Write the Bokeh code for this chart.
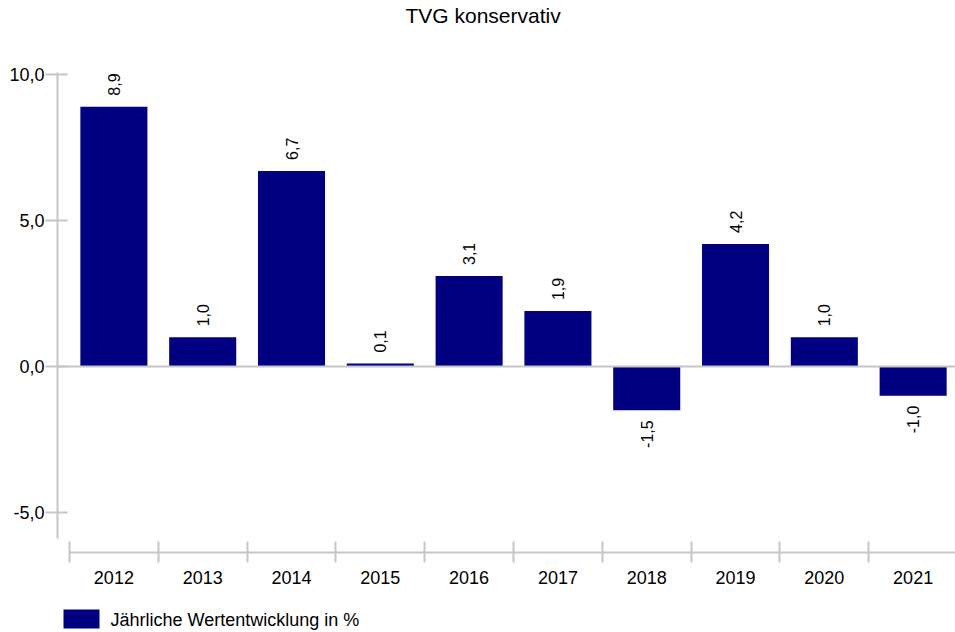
from bokeh.plotting import figure
from bokeh.layouts import column
from bokeh.models import (Range1d, FixedTicker, CustomJSTickFormatter, Span,
                          ColumnDataSource, Title)
from bokeh.core.properties import value
from bokeh.embed import file_html
from bokeh.resources import INLINE
import math

# ---- data ----
years = ["2012", "2013", "2014", "2015", "2016", "2017", "2018", "2019", "2020", "2021"]
values = [8.9, 1.0, 6.7, 0.1, 3.1, 1.9, -1.5, 4.2, 1.0, -1.0]
y_ticks = [-5, 0, 5, 10]
title_text = "TVG konservativ"
legend_label = "Jährliche Wertentwicklung in %"

FONT = "Liberation Sans"
GRAY = "#c6c6c6"
NAVY = "#000080"

xs = [i + 0.5 for i in range(len(years))]
labels = [f"{v:.1f}".replace(".", ",") for v in values]

src = ColumnDataSource(dict(x=xs, top=values, label=labels))
pos = ColumnDataSource(dict(
    x=[x for x, v in zip(xs, values) if v >= 0],
    y=[v for v in values if v >= 0],
    label=[l for l, v in zip(labels, values) if v >= 0]))
neg = ColumnDataSource(dict(
    x=[x for x, v in zip(xs, values) if v < 0],
    y=[v for v in values if v < 0],
    label=[l for l, v in zip(labels, values) if v < 0]))

p = figure(frame_width=898, frame_height=480, title=None,
           x_range=Range1d(-0.135, 9.977), y_range=Range1d(-6.37, 10.07),
           output_backend="svg", toolbar_location=None,
           min_border_left=57, min_border_right=0, min_border_top=72,
           min_border_bottom=48)

p.xgrid.visible = False
p.ygrid.visible = False
p.outline_line_color = None
p.background_fill_color = "white"

# spacer between frame and title, then the title itself
spacer = Title(text=" ", text_font=FONT, text_font_size="12px", standoff=30)
p.add_layout(spacer, "above")
ttl = Title(text=title_text, align="left", offset=348, vertical_align="bottom",
            standoff=0, text_font=FONT, text_font_size="21px",
            text_font_style="normal", text_color="#000000")
p.add_layout(ttl, "above")

bars = p.vbar(x="x", top="top", bottom=0, width=0.755, source=src,
              fill_color=NAVY, line_color=None)

zero = Span(location=0, dimension="width", line_color=GRAY, line_width=2)
p.add_layout(zero)

p.text(x="x", y="y", text="label", source=pos, angle=math.pi / 2,
       text_align="left", text_baseline="middle", y_offset=-11,
       text_font=value(FONT), text_font_size="16px", text_color="#000000")
p.text(x="x", y="y", text="label", source=neg, angle=math.pi / 2,
       text_align="right", text_baseline="middle", y_offset=10,
       text_font=value(FONT), text_font_size="16px", text_color="#000000")

# y axis
ya = p.yaxis[0]
ya.ticker = FixedTicker(ticks=y_ticks, minor_ticks=[])
ya.formatter = CustomJSTickFormatter(code="return tick.toFixed(1).replace('.', ',');")
ya.bounds = (-5.9, 11)
ya.axis_line_color = GRAY
ya.axis_line_width = 2
ya.major_tick_line_color = GRAY
ya.major_tick_line_width = 2
ya.major_tick_in = 10
ya.major_tick_out = 12
ya.minor_tick_line_color = None
ya.major_label_standoff = 1
ya.major_label_text_font = FONT
ya.major_label_text_font_size = "18px"
ya.major_label_text_color = "#000000"

# x axis
xa = p.xaxis[0]
xa.ticker = FixedTicker(ticks=xs, minor_ticks=list(range(len(years) + 1)))
xa.formatter = CustomJSTickFormatter(args=dict(labels=years),
                                     code="return labels[Math.floor(tick)];")
xa.bounds = (0, len(years))
xa.axis_line_color = GRAY
xa.axis_line_width = 2
xa.major_tick_line_color = None
xa.major_tick_in = 0
xa.major_tick_out = 0
xa.minor_tick_line_color = GRAY
xa.minor_tick_line_width = 2
xa.minor_tick_in = 11
xa.minor_tick_out = 10
xa.major_label_standoff = 8
xa.major_label_text_font = FONT
xa.major_label_text_font_size = "18px"
xa.major_label_text_color = "#000000"

# ---- legend strip: its frame is aligned with the main frame (57..955 px),
# so its x range is expressed in page pixels ----
leg = figure(frame_width=898, frame_height=32,
             x_range=Range1d(57, 955), y_range=Range1d(32, 0),
             output_backend="svg", toolbar_location=None, title=None,
             min_border_left=57, min_border_right=0,
             min_border_top=0, min_border_bottom=0)
leg.axis.visible = False
leg.xgrid.visible = False
leg.ygrid.visible = False
leg.outline_line_color = None
leg_src = ColumnDataSource(dict(left=[63], right=[99], top=[9], bottom=[28],
                                tx=[110], ty=[19], label=[legend_label]))
leg.quad(left="left", right="right", top="top", bottom="bottom", source=leg_src,
         fill_color=NAVY, line_color=None)
leg.text(x="tx", y="ty", text="label", source=leg_src, text_align="left",
         text_baseline="middle", text_font=value(FONT), text_font_size="18px",
         text_color="#000000")

layout = column(p, leg, spacing=0)
open("out.html", "w").write(file_html(layout, INLINE))
